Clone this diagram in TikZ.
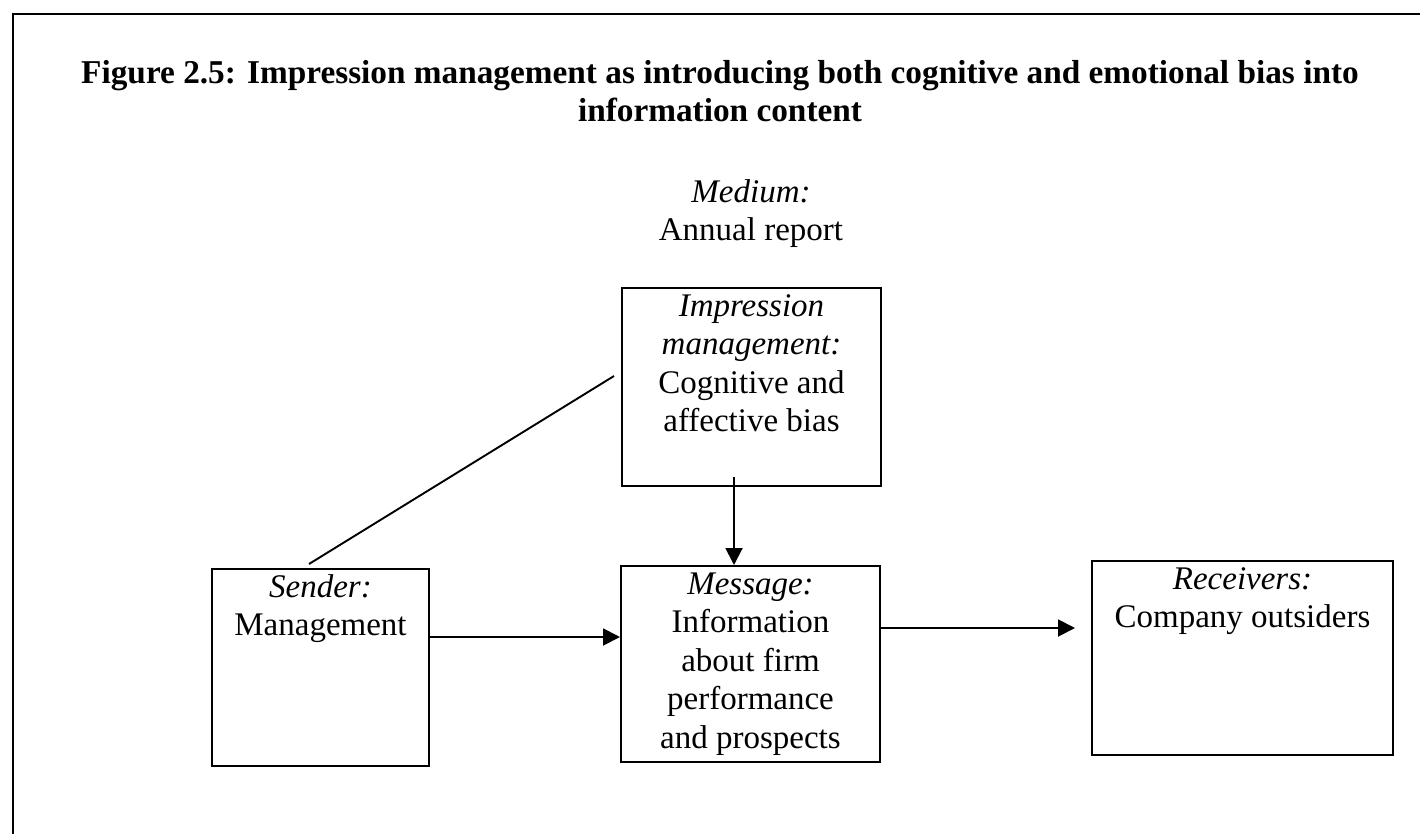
\documentclass[tikz,border=0pt]{standalone}
\usepackage{fontspec}
\setmainfont{Liberation Serif}
\usetikzlibrary{arrows.meta,calc}
% strut that fixes the height of the first line of every label
\newcommand\ascstrut{\rule{0pt}{25pt}}
\begin{document}
\begin{tikzpicture}[x=1pt,y=-1pt,
  frame/.style={line width=2pt},
  box/.style={draw,line width=2pt,rectangle,inner sep=0pt},
  lbl/.style={anchor=north,inner sep=0pt,align=center,font=\fontsize{33}{38.5}\selectfont},
  ttl/.style={lbl,font=\fontsize{33.3}{38.5}\selectfont\bfseries},
  link/.style={line width=1.9pt},
  arr/.style={line width=1.9pt,-{Triangle[length=17pt,width=17pt]}}]
\useasboundingbox (0,0) rectangle (1420,834);

% open frame: top and left edges
\draw[frame] (13,834) -- (13,14) -- (1420,14);

% title
\node[ttl] (title) at (720,58) {\ascstrut Figure 2.5: Impression management as introducing both cognitive and emotional bias into\\information content};

% medium
\node[lbl] (medium) at (751,177) {\ascstrut\textit{Medium:}\\Annual report};

% boxes
\node[box,minimum width=217pt,minimum height=197pt] (snd) at (320.5,667.5) {};
\node[box,minimum width=259pt,minimum height=196pt] (msg) at (750.5,664) {};
\node[box,minimum width=259pt,minimum height=198pt] (imp) at (751.5,387) {};
\node[box,minimum width=301pt,minimum height=194pt] (rcv) at (1242.5,658) {};

% box labels
\node[lbl] (sndT) at ([yshift=-4pt]snd.north) {\ascstrut\textit{Sender:}\\Management};
\node[lbl] (msgT) at ([yshift=-4pt]msg.north) {\ascstrut\textit{Message:}\\Information\\about firm\\performance\\and prospects};
\node[lbl] (impT) at ([yshift=-4pt]imp.north) {\ascstrut\textit{Impression}\\\textit{management:}\\Cognitive and\\affective bias};
\node[lbl] (rcvT) at ([yshift=-4pt]rcv.north) {\ascstrut\textit{Receivers:}\\Company outsiders};

% connectors
\coordinate (yA) at (0,637);
\coordinate (yB) at (0,628);
\coordinate (impFoot) at (734,477);
\draw[link] ($(snd.north)+(-11.5,-4)$) -- ($(imp.west)+(-7,-11)$);
\draw[arr] (impFoot) -- (impFoot |- msg.north);
\draw[arr] (snd.east |- yA) -- (msg.west |- yA);
\draw[arr] (msg.east |- yB) -- ($(rcv.west |- yB)+(-16,0)$);
\end{tikzpicture}
\end{document}
